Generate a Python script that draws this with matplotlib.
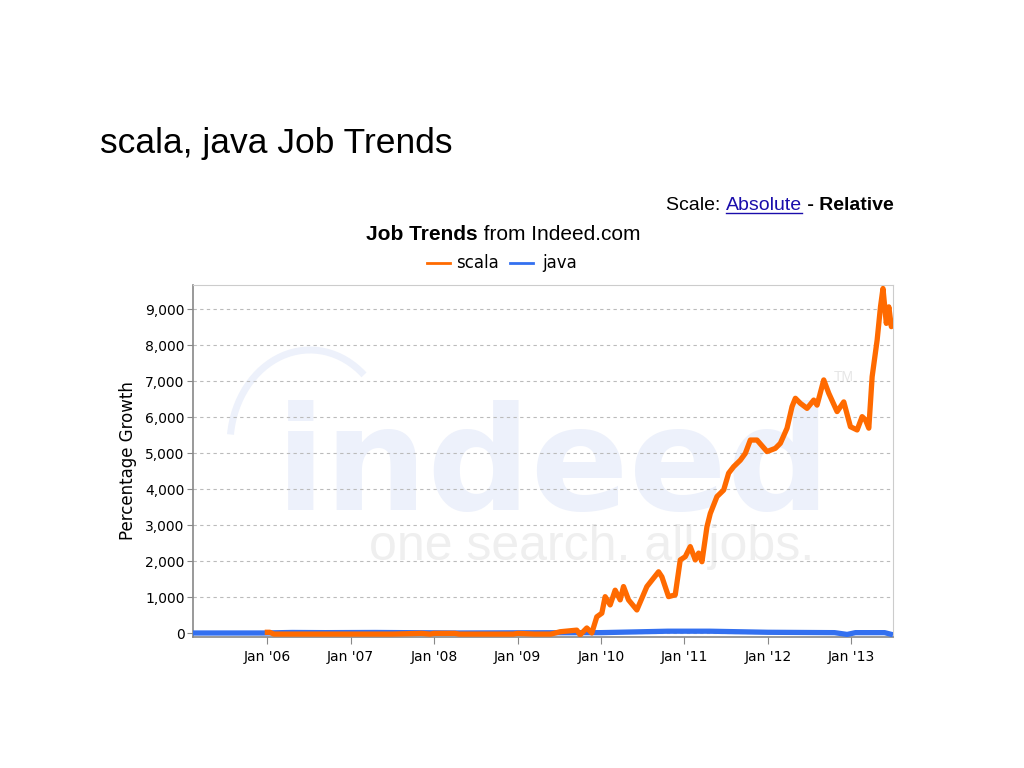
import numpy as np
import matplotlib.pyplot as plt
from matplotlib.patches import Arc

plt.rcParams['font.family'] = ['Liberation Sans', 'DejaVu Sans']

# data (x in decimal years)
scala_x = [2005.97, 2006.03, 2006.08, 2007.5, 2007.85, 2007.95, 2008.0, 2008.25, 2008.3,
           2008.95, 2009.0, 2009.2, 2009.4, 2009.51, 2009.71, 2009.75, 2009.83, 2009.89,
           2009.95, 2010.01, 2010.05, 2010.11, 2010.17, 2010.23, 2010.27, 2010.33, 2010.43,
           2010.55, 2010.69, 2010.73, 2010.81, 2010.89, 2010.95, 2011.01, 2011.07, 2011.13,
           2011.17, 2011.21, 2011.27, 2011.31, 2011.39, 2011.47, 2011.53, 2011.59, 2011.67,
           2011.73, 2011.79, 2011.87, 2011.99, 2012.09, 2012.15, 2012.23, 2012.29, 2012.33,
           2012.39, 2012.47, 2012.55, 2012.59, 2012.67, 2012.73, 2012.83, 2012.91, 2012.99,
           2013.07, 2013.13, 2013.17, 2013.21, 2013.25, 2013.31, 2013.35, 2013.38, 2013.42,
           2013.45, 2013.48, 2013.5]
scala_y = [20, 20, -30, -30, -10, -30, -10, -10, -30,
           -30, -10, -30, -30, 35, 80, -50, 140, 0,
           450, 550, 1010, 780, 1190, 920, 1290, 920, 640,
           1290, 1700, 1560, 1010, 1060, 2030, 2120, 2400, 2030,
           2220, 1980, 2950, 3320, 3790, 3970, 4440, 4620, 4800,
           4990, 5360, 5360, 5040, 5130, 5270, 5690, 6290, 6520,
           6380, 6240, 6470, 6330, 7030, 6660, 6150, 6420, 5730,
           5640, 6010, 5920, 5690, 7120, 8140, 9060, 9570, 8600,
           9060, 8510, 8700]

java_x = [2005.1, 2005.95, 2006.3, 2006.7, 2007.3, 2008.3, 2009.0, 2010.0, 2010.8,
          2011.3, 2012.0, 2012.8, 2012.95, 2013.05, 2013.4, 2013.5]
java_y = [0, 0, 15, 10, 15, 0, 5, 10, 50,
          50, 20, 10, -40, 10, 10, -50]

tick_years = [2006, 2007, 2008, 2009, 2010, 2011, 2012, 2013]
tick_labels = ["Jan '06", "Jan '07", "Jan '08", "Jan '09", "Jan '10", "Jan '11", "Jan '12", "Jan '13"]
y_ticks = [0, 1000, 2000, 3000, 4000, 5000, 6000, 7000, 8000, 9000]

W, H = 1024, 768
fig = plt.figure(figsize=(10.24, 7.68), dpi=100)
ax = fig.add_axes([193 / W, 1 - 637 / H, 700 / W, 352 / H])
renderer = fig.canvas.get_renderer()


def chain(x, y, parts):
    # draw text pieces one after another, x/y in pixels from top-left
    for s, kw in parts:
        t = fig.text(x / W, 1 - y / H, s, va='baseline', ha='left', **kw)
        x = t.get_window_extent(renderer).x1
    return x


# watermark
ax.text(553 / W, 1 - 510 / H, 'indeed', transform=fig.transFigure, ha='center', va='baseline',
        fontsize=104, fontweight='bold', color='#edf1fb', zorder=0,
        family='DejaVu Sans Condensed')
ax.text(592 / W, 1 - 560 / H, 'one search. all jobs.', transform=fig.transFigure,
        ha='center', va='baseline', fontsize=36, color='#efefef', zorder=0)
ax.text(844 / W, 1 - 377 / H, 'TM', transform=fig.transFigure, ha='center', va='center',
        fontsize=10, color='#e6e6e6', zorder=0)
ax.add_patch(Arc((310 / W, 1 - 445 / H), 160 / W, 190 / H, transform=fig.transFigure,
                 theta1=60, theta2=170, color='#edf1fb', lw=5, zorder=0))

ax.plot(java_x, java_y, color='#3370f0', lw=3.8, solid_capstyle='butt', zorder=3)
ax.plot(scala_x, scala_y, color='#ff6a00', lw=3.8, solid_capstyle='butt', zorder=4)

ax.set_xlim(2005.11, 2013.5)
ax.set_ylim(-111, 9667)
ax.set_xticks(tick_years)
ax.set_xticklabels(tick_labels, fontsize=10, family='DejaVu Sans Condensed')
ax.set_yticks(y_ticks)
ax.set_yticklabels([f'{v:,}' for v in y_ticks], fontsize=10, family='DejaVu Sans Condensed')
ax.tick_params(axis='x', length=5, color='#888888', pad=4)
ax.tick_params(axis='y', length=4, color='#888888', pad=2)
ax.yaxis.grid(True, linestyle=(0, (3, 3)), color='#bbbbbb', lw=0.8)
ax.set_axisbelow(True)
for s in ['top', 'right']:
    ax.spines[s].set_color('#cccccc')
for s in ['left', 'bottom']:
    ax.spines[s].set_color('#888888')
    ax.spines[s].set_linewidth(1.2)
ax.set_ylabel('Percentage Growth', fontsize=12, family='DejaVu Sans', labelpad=6)

# headings
fig.text(100 / W, 1 - 153 / H, 'scala, java Job Trends', fontsize=25.5, va='baseline', ha='left')

x0 = chain(666, 210, [('Scale: ', dict(fontsize=14))])
x1 = chain(x0, 210, [('Absolute', dict(fontsize=14, color='#1a0dab'))])
fig.lines.append(plt.Line2D([x0 / W, x1 / W], [1 - 213 / H, 1 - 213 / H],
                            transform=fig.transFigure, color='#1a0dab', lw=1))
chain(x1, 210, [(' - Relative', dict(fontsize=14, fontweight='bold'))])

chain(366, 240, [('Job Trends', dict(fontsize=15, fontweight='bold')),
                 (' from Indeed.com', dict(fontsize=15))])

# legend
fig.lines.append(plt.Line2D([427 / W, 450 / W], [1 - 263 / H, 1 - 263 / H],
                            transform=fig.transFigure, color='#ff6a00', lw=2))
fig.text(456 / W, 1 - 263 / H, 'scala', fontsize=12, va='center', ha='left', family='DejaVu Sans')
fig.lines.append(plt.Line2D([510 / W, 533 / W], [1 - 263 / H, 1 - 263 / H],
                            transform=fig.transFigure, color='#3370f0', lw=2))
fig.text(542 / W, 1 - 263 / H, 'java', fontsize=12, va='center', ha='left', family='DejaVu Sans')

fig.savefig('out.png', dpi=100)
